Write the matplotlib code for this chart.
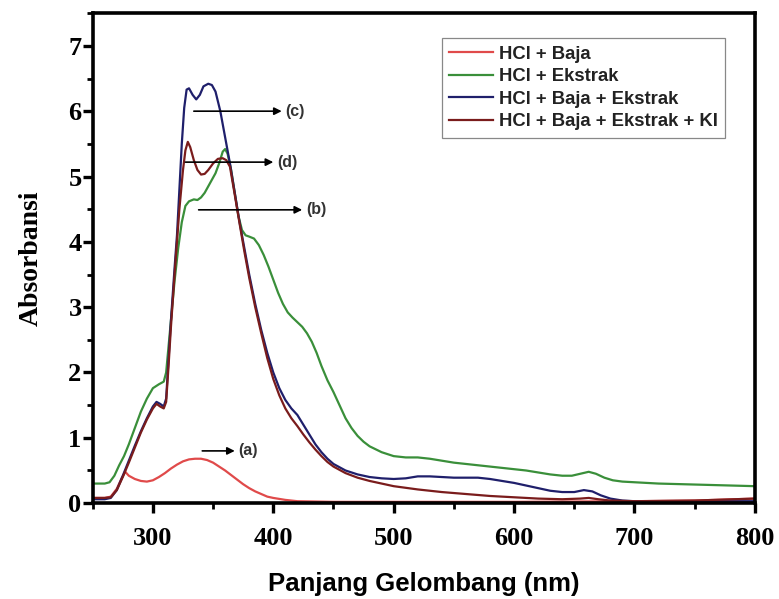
import matplotlib
matplotlib.use('Agg')
import matplotlib.pyplot as plt
from matplotlib.ticker import MultipleLocator

# UV-Vis spectra (wavelength in nm, absorbance)
wl_a = [250, 260, 265, 270, 274, 277, 280, 285, 290, 295, 300, 305, 310, 315, 320,
        325, 330, 335, 340, 345, 350, 355, 360, 365, 370, 375, 380, 385, 390, 395,
        400, 410, 420, 450, 500, 600, 700, 750, 800]
abs_a = [0.08, 0.08, 0.10, 0.22, 0.38, 0.48, 0.42, 0.37, 0.34, 0.33, 0.35, 0.40, 0.46,
         0.53, 0.59, 0.64, 0.67, 0.68, 0.68, 0.66, 0.62, 0.56, 0.50, 0.43, 0.36, 0.29,
         0.23, 0.18, 0.14, 0.10, 0.08, 0.05, 0.03, 0.02, 0.02, 0.02, 0.03, 0.04, 0.07]

wl_b = [250, 255, 260, 264, 268, 272, 276, 280, 285, 290, 295, 300, 305, 309, 311,
        313, 315, 318, 321, 324, 327, 330, 334, 337, 340, 343, 346, 349, 352, 355,
        358, 360, 362, 365, 368, 371, 374, 377, 380, 384, 388, 392, 396, 400, 404,
        408, 412, 416, 420, 424, 428, 432, 436, 440, 445, 450, 455, 460, 465, 470,
        475, 480, 490, 500, 510, 520, 530, 540, 550, 560, 570, 580, 590, 600, 610,
        620, 630, 640, 648, 655, 662, 668, 675, 682, 690, 700, 720, 740, 760, 780, 800]
abs_b = [0.30, 0.30, 0.30, 0.32, 0.42, 0.58, 0.72, 0.90, 1.15, 1.40, 1.60, 1.76, 1.82,
         1.86, 2.00, 2.40, 2.80, 3.40, 3.90, 4.30, 4.55, 4.62, 4.65, 4.64, 4.68, 4.75,
         4.85, 4.95, 5.05, 5.20, 5.38, 5.42, 5.35, 5.10, 4.75, 4.40, 4.18, 4.10, 4.08,
         4.05, 3.95, 3.80, 3.62, 3.42, 3.22, 3.05, 2.92, 2.84, 2.77, 2.70, 2.60, 2.47,
         2.30, 2.10, 1.88, 1.70, 1.50, 1.30, 1.15, 1.03, 0.94, 0.87, 0.78, 0.72, 0.70,
         0.70, 0.68, 0.65, 0.62, 0.60, 0.58, 0.56, 0.54, 0.52, 0.50, 0.47, 0.44, 0.42,
         0.42, 0.45, 0.48, 0.45, 0.39, 0.35, 0.33, 0.32, 0.30, 0.29, 0.28, 0.27, 0.26]

wl_c = [250, 255, 260, 265, 270, 275, 280, 285, 290, 295, 300, 303, 306, 309, 311,
        313, 315, 318, 320, 322, 324, 326, 328, 330, 333, 336, 339, 342, 346, 349,
        352, 356, 360, 364, 368, 372, 376, 380, 385, 390, 395, 400, 405, 410, 415,
        420, 425, 430, 435, 440, 445, 450, 460, 470, 480, 490, 500, 510, 520, 530,
        540, 550, 560, 570, 580, 590, 600, 610, 620, 630, 640, 650, 658, 665, 672,
        680, 690, 700, 750, 800]
abs_c = [0.06, 0.06, 0.06, 0.08, 0.20, 0.42, 0.65, 0.88, 1.10, 1.30, 1.48, 1.55, 1.52,
         1.48, 1.60, 2.20, 2.80, 3.60, 4.10, 4.80, 5.50, 6.05, 6.33, 6.35, 6.25, 6.18,
         6.25, 6.38, 6.42, 6.40, 6.30, 6.00, 5.60, 5.20, 4.75, 4.30, 3.90, 3.50, 3.05,
         2.65, 2.30, 2.00, 1.76, 1.58, 1.45, 1.35, 1.20, 1.05, 0.90, 0.78, 0.68, 0.60,
         0.50, 0.44, 0.40, 0.38, 0.37, 0.38, 0.41, 0.41, 0.40, 0.39, 0.39, 0.39, 0.37,
         0.34, 0.31, 0.27, 0.23, 0.19, 0.17, 0.17, 0.20, 0.18, 0.12, 0.07, 0.04, 0.03,
         0.03, 0.03]

wl_d = [250, 260, 265, 270, 275, 280, 285, 290, 295, 300, 303, 306, 309, 311, 313,
        315, 318, 320, 322, 325, 327, 329, 331, 334, 337, 340, 343, 346, 350, 354,
        358, 361, 364, 368, 372, 376, 380, 385, 390, 395, 400, 405, 410, 415, 420,
        425, 430, 435, 440, 445, 450, 460, 470, 480, 490, 500, 520, 540, 560, 580,
        600, 620, 640, 655, 662, 670, 680, 700, 750, 800]
abs_d = [0.08, 0.08, 0.09, 0.20, 0.40, 0.62, 0.85, 1.08, 1.28, 1.45, 1.52, 1.48, 1.45,
         1.55, 2.10, 2.70, 3.50, 4.00, 4.50, 5.10, 5.40, 5.53, 5.45, 5.25, 5.10, 5.03,
         5.04, 5.10, 5.20, 5.27, 5.28, 5.25, 5.15, 4.72, 4.28, 3.85, 3.45, 3.00, 2.60,
         2.22, 1.90, 1.65, 1.45, 1.30, 1.18, 1.05, 0.93, 0.82, 0.72, 0.63, 0.56, 0.46,
         0.39, 0.34, 0.30, 0.26, 0.21, 0.17, 0.14, 0.11, 0.09, 0.07, 0.06, 0.07, 0.08,
         0.06, 0.04, 0.03, 0.04, 0.07]

labels = ['HCl + Baja', 'HCl + Ekstrak', 'HCl + Baja + Ekstrak', 'HCl + Baja + Ekstrak + KI']
colors = ['#e04a4a', '#3a8f3a', '#1f1f6b', '#7a1c1c']

# arrow annotations: (tag, x start, x end, y)
tags = ['(a)', '(b)', '(c)', '(d)']
arrow_x0 = [341, 338, 334, 327]
arrow_x1 = [368, 424, 407, 400]
arrow_y = [0.80, 4.49, 6.00, 5.22]

serif = 'Liberation Serif'
sans = 'Liberation Sans'

fig = plt.figure(figsize=(7.79, 5.99), dpi=100)
ax = fig.add_axes([0.119, 0.160, 0.850, 0.818])

series = [(wl_a, abs_a), (wl_b, abs_b), (wl_c, abs_c), (wl_d, abs_d)]
for (x, y), lab, col in zip(series, labels, colors):
    ax.plot(x, y, color=col, lw=1.6, label=lab)

for t, x0, x1, y in zip(tags, arrow_x0, arrow_x1, arrow_y):
    ax.annotate('', xy=(x1, y), xytext=(x0, y),
                arrowprops=dict(arrowstyle='-|>', color='black', lw=1.2,
                                mutation_scale=11, shrinkA=0, shrinkB=0))
    ax.text(x1 + 3, y, t, fontsize=11.5, fontweight='bold', family=sans,
            color='#333333', va='center', ha='left')

ax.set_xlim(250, 800)
ax.set_ylim(0, 7.5)
ax.xaxis.set_major_locator(MultipleLocator(100))
ax.xaxis.set_minor_locator(MultipleLocator(50))
ax.yaxis.set_major_locator(MultipleLocator(1))
ax.yaxis.set_minor_locator(MultipleLocator(0.5))

for s in ax.spines.values():
    s.set_linewidth(2.6)
ax.tick_params(which='major', direction='out', length=7, width=2.4)
ax.tick_params(which='minor', direction='out', length=4.5, width=2.0)
ax.tick_params(axis='x', pad=10)
ax.tick_params(axis='y', pad=1)
for lbl in ax.get_xticklabels() + ax.get_yticklabels():
    lbl.set_fontfamily(serif)
    lbl.set_fontweight('bold')
    lbl.set_fontsize(19)

ax.set_xlabel('Panjang Gelombang (nm)', fontsize=18.5, fontweight='bold',
              family=sans, labelpad=16)
ax.set_ylabel('Absorbansi', fontsize=20, fontweight='bold', family=serif, labelpad=18)

leg = ax.legend(loc='upper right', bbox_to_anchor=(0.955, 0.949), borderaxespad=0,
                fancybox=False, framealpha=1, edgecolor='#888888', handlelength=2.4,
                handletextpad=0.3, labelspacing=0.3, borderpad=0.4,
                prop={'family': sans, 'weight': 'bold', 'size': 13.3})
leg.get_frame().set_linewidth(0.9)
for t in leg.get_texts():
    t.set_color('#222222')

fig.savefig('out.png', dpi=100)
